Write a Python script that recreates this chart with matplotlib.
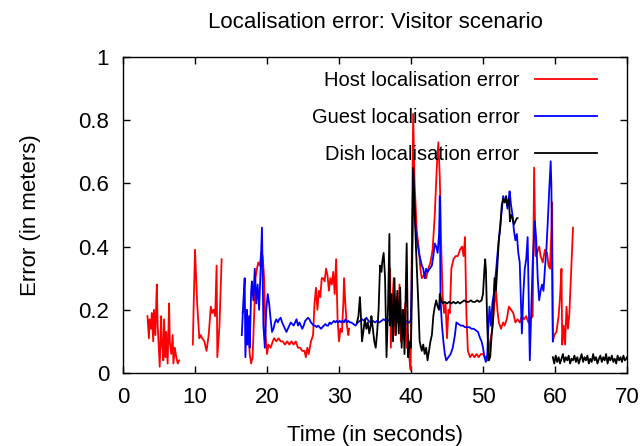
import numpy as np
import matplotlib
matplotlib.use('Agg')
import matplotlib.pyplot as plt

nan = np.nan

# (time in s, error in m); (nan, nan) marks a gap in the recording
host = [
    (3.4, 0.18), (3.6, 0.11), (3.7, 0.17), (3.9, 0.14), (4.0, 0.19), (4.2, 0.10), (4.3, 0.20),
    (4.5, 0.12), (4.6, 0.21), (4.7, 0.28), (4.8, 0.16), (5.0, 0.07), (5.1, 0.02), (5.3, 0.18),
    (5.4, 0.10), (5.6, 0.04), (5.7, 0.17), (5.9, 0.05), (6.0, 0.13), (6.2, 0.03), (6.4, 0.22),
    (6.5, 0.10), (6.7, 0.06), (6.9, 0.12), (7.0, 0.03), (7.2, 0.08), (7.4, 0.05), (7.6, 0.03),
    (7.8, 0.04),
    (nan, nan),
    (9.7, 0.09), (9.8, 0.20), (10.0, 0.39), (10.3, 0.22), (10.6, 0.11), (10.8, 0.12), (11.0, 0.11),
    (11.3, 0.10), (11.6, 0.07), (11.9, 0.12), (12.2, 0.21), (12.4, 0.19), (12.6, 0.20), (12.8, 0.18),
    (13.0, 0.34), (13.1, 0.05), (13.4, 0.15), (13.7, 0.36),
    (nan, nan),
    (16.6, 0.19), (16.8, 0.21), (17.0, 0.20), (17.2, 0.18), (17.4, 0.14), (17.6, 0.06), (17.8, 0.03),
    (18.0, 0.05), (18.2, 0.18), (18.4, 0.30), (18.6, 0.33), (18.8, 0.35), (19.0, 0.34), (19.2, 0.38),
    (19.4, 0.37), (19.6, 0.30), (19.8, 0.12), (20.0, 0.06), (20.2, 0.09), (20.5, 0.08), (20.8, 0.10),
    (21.0, 0.11), (21.3, 0.10), (21.6, 0.11), (21.9, 0.10), (22.2, 0.10), (22.5, 0.09), (22.8, 0.10),
    (23.1, 0.09), (23.4, 0.10), (23.7, 0.09), (24.0, 0.10), (24.3, 0.08), (24.6, 0.08), (24.9, 0.07),
    (25.2, 0.07), (25.4, 0.05), (25.6, 0.08), (25.8, 0.06), (26.1, 0.10), (26.4, 0.12), (26.6, 0.22),
    (26.8, 0.27), (27.0, 0.20), (27.2, 0.26), (27.4, 0.24), (27.6, 0.30), (27.8, 0.30), (28.0, 0.29),
    (28.2, 0.33), (28.4, 0.31), (28.6, 0.26), (28.8, 0.30), (29.0, 0.28), (29.2, 0.32), (29.4, 0.25),
    (29.6, 0.36), (29.8, 0.17), (30.0, 0.10), (30.2, 0.14), (30.4, 0.13), (30.6, 0.22), (30.7, 0.30),
    (30.9, 0.21), (31.1, 0.15), (31.3, 0.12), (31.4, 0.14),
    (nan, nan),
    (36.9, 0.20), (37.1, 0.33), (37.2, 0.08), (37.4, 0.22), (37.6, 0.30), (37.8, 0.12), (38.0, 0.24),
    (38.2, 0.16), (38.4, 0.28), (38.6, 0.10), (38.8, 0.20), (39.0, 0.14), (39.2, 0.22), (39.4, 0.08),
    (39.6, 0.12), (39.8, 0.04), (39.95, 0.01), (40.1, 0.35), (40.3, 0.82), (40.5, 0.60), (40.8, 0.45),
    (41.1, 0.39), (41.3, 0.33), (41.5, 0.30), (41.8, 0.31), (42.1, 0.30), (42.4, 0.33), (42.7, 0.35),
    (43.0, 0.39), (43.3, 0.50), (43.6, 0.66), (43.8, 0.73), (44.0, 0.62), (44.2, 0.40), (44.4, 0.24),
    (44.6, 0.19), (44.8, 0.22), (45.0, 0.11), (45.2, 0.20), (45.4, 0.19), (45.6, 0.33), (45.9, 0.36),
    (46.2, 0.37), (46.5, 0.37), (46.8, 0.39), (47.1, 0.40), (47.3, 0.37), (47.5, 0.43), (47.7, 0.18),
    (47.9, 0.07), (48.2, 0.05), (48.5, 0.06), (48.8, 0.05), (49.1, 0.06), (49.4, 0.05), (49.7, 0.06),
    (50.0, 0.06), (50.3, 0.05), (50.6, 0.04), (50.8, 0.07), (51.0, 0.10), (51.3, 0.14), (51.6, 0.22),
    (51.8, 0.26), (52.0, 0.20), (52.2, 0.16), (52.5, 0.14), (52.8, 0.16), (53.0, 0.15), (53.3, 0.17),
    (53.6, 0.21), (53.9, 0.20), (54.2, 0.19), (54.5, 0.16), (54.8, 0.17), (55.1, 0.16), (55.4, 0.18),
    (55.7, 0.17), (56.0, 0.18), (56.3, 0.16), (56.6, 0.17), (56.9, 0.18), (57.1, 0.65), (57.3, 0.37),
    (57.5, 0.38), (57.8, 0.40), (58.0, 0.37), (58.3, 0.35), (58.6, 0.39), (58.9, 0.38), (59.1, 0.34),
    (59.3, 0.33), (59.5, 0.45), (59.6, 0.54), (59.7, 0.10), (59.9, 0.12), (60.2, 0.13), (60.5, 0.18),
    (60.7, 0.24), (60.9, 0.33), (61.0, 0.09), (61.2, 0.15), (61.4, 0.09), (61.6, 0.21), (61.8, 0.14),
    (62.0, 0.19), (62.5, 0.46),
]

guest = [
    (16.5, 0.12), (16.7, 0.22), (16.9, 0.30), (17.0, 0.05), (17.2, 0.20), (17.3, 0.09), (17.5, 0.18),
    (17.6, 0.08), (17.8, 0.26), (17.9, 0.29), (18.1, 0.23), (18.3, 0.33), (18.5, 0.22), (18.7, 0.28),
    (18.9, 0.20), (19.1, 0.32), (19.3, 0.46), (19.4, 0.30), (19.5, 0.15), (19.7, 0.08), (19.9, 0.20),
    (20.1, 0.25), (20.3, 0.22), (20.5, 0.17), (20.7, 0.13), (20.9, 0.14), (21.1, 0.16), (21.3, 0.17),
    (21.5, 0.16), (21.7, 0.17), (21.9, 0.175), (22.1, 0.16), (22.3, 0.15), (22.5, 0.14), (22.7, 0.13),
    (22.9, 0.14), (23.1, 0.15), (23.3, 0.16), (23.5, 0.155), (23.7, 0.15), (23.9, 0.16), (24.1, 0.17),
    (24.3, 0.15), (24.5, 0.16), (24.7, 0.15), (24.9, 0.14), (25.1, 0.15), (25.3, 0.165), (25.5, 0.17),
    (25.7, 0.175), (25.9, 0.17), (26.1, 0.16), (26.3, 0.155), (26.5, 0.15), (26.7, 0.15), (26.9, 0.145),
    (27.1, 0.15), (27.3, 0.145), (27.5, 0.14), (27.7, 0.145), (27.9, 0.15), (28.1, 0.155), (28.3, 0.15),
    (28.5, 0.15), (28.7, 0.16), (28.9, 0.155), (29.1, 0.16), (29.3, 0.165), (29.5, 0.16), (29.7, 0.165),
    (29.9, 0.16), (30.1, 0.165), (30.3, 0.16), (30.5, 0.165), (30.7, 0.16), (30.9, 0.17), (31.1, 0.16),
    (31.3, 0.165), (31.5, 0.16), (31.7, 0.16), (32.0, 0.155), (32.3, 0.15), (32.6, 0.16), (32.9, 0.165),
    (33.2, 0.17), (33.5, 0.165), (33.8, 0.175), (34.1, 0.165), (34.4, 0.16), (34.7, 0.165), (35.0, 0.16),
    (35.3, 0.165), (35.6, 0.16), (35.9, 0.165), (36.2, 0.17), (36.5, 0.165), (36.8, 0.165), (37.1, 0.17),
    (37.4, 0.165), (37.7, 0.17), (38.0, 0.165), (38.3, 0.16), (38.6, 0.165), (38.9, 0.16), (39.2, 0.165),
    (39.5, 0.16), (39.8, 0.16), (40.0, 0.17), (40.2, 0.45), (40.3, 0.64), (40.5, 0.50), (40.7, 0.44),
    (40.9, 0.41), (41.1, 0.38), (41.3, 0.36), (41.5, 0.34), (41.7, 0.33), (41.9, 0.30), (42.1, 0.33),
    (42.3, 0.32), (42.6, 0.33), (42.9, 0.34), (43.1, 0.37), (43.3, 0.41), (43.5, 0.40), (43.7, 0.38),
    (43.9, 0.44), (44.0, 0.56), (44.1, 0.23), (44.3, 0.15), (44.5, 0.10), (44.7, 0.06), (44.9, 0.04),
    (45.2, 0.05), (45.5, 0.06), (45.8, 0.08), (46.1, 0.12), (46.3, 0.16), (46.6, 0.155), (46.9, 0.15),
    (47.2, 0.15), (47.5, 0.145), (47.8, 0.145), (48.1, 0.145), (48.4, 0.14), (48.7, 0.14), (49.0, 0.135),
    (49.3, 0.13), (49.6, 0.11), (49.8, 0.10), (50.0, 0.08), (50.2, 0.05), (50.4, 0.035), (50.6, 0.06),
    (50.7, 0.125), (50.9, 0.21), (51.1, 0.15), (51.3, 0.22), (51.5, 0.25), (51.8, 0.32), (52.1, 0.40),
    (52.4, 0.47), (52.6, 0.52), (52.8, 0.56), (53.0, 0.54), (53.2, 0.55), (53.4, 0.52), (53.6, 0.56),
    (53.7, 0.575), (53.9, 0.53), (54.1, 0.50), (54.3, 0.45), (54.5, 0.42), (54.7, 0.44), (54.9, 0.38),
    (55.1, 0.35), (55.3, 0.20), (55.4, 0.125), (55.6, 0.25), (55.8, 0.33), (56.0, 0.36), (56.2, 0.43),
    (56.3, 0.30), (56.5, 0.04), (56.7, 0.20), (56.9, 0.35), (57.2, 0.48), (57.4, 0.42), (57.6, 0.30),
    (57.8, 0.23), (58.0, 0.26), (58.2, 0.28), (58.4, 0.26), (58.6, 0.33), (58.8, 0.39), (59.0, 0.48),
    (59.2, 0.58), (59.4, 0.67), (59.5, 0.59), (59.7, 0.10),
]

dish = [
    (32.5, 0.16), (32.7, 0.18), (32.9, 0.24), (33.0, 0.20), (33.2, 0.10), (33.4, 0.135), (33.6, 0.17),
    (33.8, 0.14), (34.0, 0.16), (34.2, 0.125), (34.4, 0.15), (34.5, 0.18), (34.7, 0.14), (34.9, 0.10),
    (35.1, 0.08), (35.3, 0.13), (35.5, 0.20), (35.7, 0.34), (35.9, 0.32), (36.0, 0.35), (36.2, 0.38),
    (36.4, 0.30), (36.6, 0.05), (36.8, 0.20), (37.0, 0.44), (37.1, 0.15), (37.3, 0.25), (37.5, 0.10),
    (37.7, 0.30), (37.9, 0.12), (38.1, 0.26), (38.3, 0.125), (38.5, 0.27), (38.7, 0.08), (38.9, 0.20),
    (39.1, 0.06), (39.3, 0.30), (39.4, 0.41), (39.6, 0.05), (39.8, 0.10), (40.0, 0.08), (40.15, 0.30),
    (40.3, 0.65), (40.5, 0.53), (40.7, 0.39), (41.0, 0.23), (41.2, 0.10), (41.5, 0.07), (41.7, 0.09),
    (41.9, 0.06), (42.1, 0.08), (42.3, 0.04), (42.5, 0.07), (42.7, 0.10), (42.9, 0.12), (43.1, 0.18),
    (43.3, 0.21), (43.5, 0.23), (43.7, 0.21), (43.9, 0.20), (44.0, 0.25), (44.2, 0.23), (44.4, 0.22),
    (44.7, 0.225), (45.0, 0.22), (45.3, 0.225), (45.6, 0.22), (45.9, 0.225), (46.2, 0.22), (46.5, 0.225),
    (46.8, 0.22), (47.1, 0.225), (47.4, 0.23), (47.7, 0.225), (48.0, 0.225), (48.3, 0.23), (48.6, 0.225),
    (48.9, 0.225), (49.2, 0.23), (49.5, 0.225), (49.8, 0.23), (50.0, 0.25), (50.2, 0.33), (50.3, 0.36),
    (50.4, 0.33), (50.6, 0.145), (50.8, 0.04), (51.0, 0.05), (51.2, 0.12), (51.4, 0.17), (51.6, 0.30),
    (51.8, 0.26), (52.0, 0.34), (52.2, 0.42), (52.4, 0.46), (52.6, 0.53), (52.8, 0.55), (53.0, 0.54),
    (53.2, 0.56), (53.4, 0.53), (53.6, 0.55), (53.75, 0.48), (53.9, 0.50), (54.1, 0.49), (54.3, 0.47),
    (54.5, 0.48), (54.7, 0.49), (54.8, 0.49),
    (nan, nan),
    (59.7, 0.05), (59.9, 0.03), (60.1, 0.055), (60.3, 0.035), (60.5, 0.05), (60.7, 0.03), (60.9, 0.045),
    (61.1, 0.06), (61.3, 0.035), (61.5, 0.05), (61.7, 0.04), (61.9, 0.055), (62.1, 0.03), (62.3, 0.045),
    (62.5, 0.04), (62.7, 0.055), (62.9, 0.035), (63.1, 0.05), (63.3, 0.03), (63.5, 0.045), (63.7, 0.06),
    (63.9, 0.035), (64.1, 0.05), (64.3, 0.04), (64.5, 0.055), (64.7, 0.03), (64.9, 0.045), (65.1, 0.035),
    (65.3, 0.06), (65.5, 0.04), (65.7, 0.05), (65.9, 0.03), (66.1, 0.045), (66.3, 0.055), (66.5, 0.035),
    (66.7, 0.05), (66.9, 0.04), (67.1, 0.06), (67.3, 0.03), (67.5, 0.05), (67.7, 0.04), (67.9, 0.055),
    (68.1, 0.035), (68.3, 0.045), (68.5, 0.03), (68.7, 0.055), (68.9, 0.04), (69.1, 0.05), (69.3, 0.035),
    (69.5, 0.055), (69.7, 0.04), (69.9, 0.045), (70.0, 0.05),
]

x_ticks = [0, 10, 20, 30, 40, 50, 60, 70]
y_ticks = [0, 0.2, 0.4, 0.6, 0.8, 1]
y_ticklabels = ['0', '0.2', '0.4', '0.6', '0.8', '1']

plt.rcParams['font.family'] = ['Liberation Sans', 'DejaVu Sans']

fig = plt.figure(figsize=(6.42, 4.46), dpi=100)
ax = fig.add_axes([123 / 642, 73 / 446, 504 / 642, 316 / 446])

series = [
    (host, '#ff0000', 'Host localisation error'),
    (guest, '#0000ff', 'Guest localisation error'),
    (dish, '#000000', 'Dish localisation error'),
]
for data, color, label in series:
    t, v = zip(*data)
    ax.plot(t, v, color=color, lw=1.3, label=label)

ax.set_xlim(0, 70)
ax.set_ylim(0, 1)
ax.set_xticks(x_ticks)
ax.set_yticks(y_ticks)
ax.set_yticklabels(y_ticklabels)
ax.tick_params(direction='in', top=True, right=True, length=5, width=1,
               labelsize=16, pad=10)
for s in ax.spines.values():
    s.set_linewidth(1.0)

ax.set_title('Localisation error: Visitor scenario', fontsize=16, pad=21)
ax.set_xlabel('Time (in seconds)', fontsize=16, labelpad=12)
ax.set_ylabel('Error (in meters)', fontsize=16, labelpad=27)

ax.legend(loc='upper right', bbox_to_anchor=(0.9405, 0.957), markerfirst=False,
          frameon=False, fontsize=14.5, handlelength=3.1, handletextpad=0.75,
          labelspacing=0.9, borderpad=0, borderaxespad=0)

fig.savefig('out.png', dpi=100)
